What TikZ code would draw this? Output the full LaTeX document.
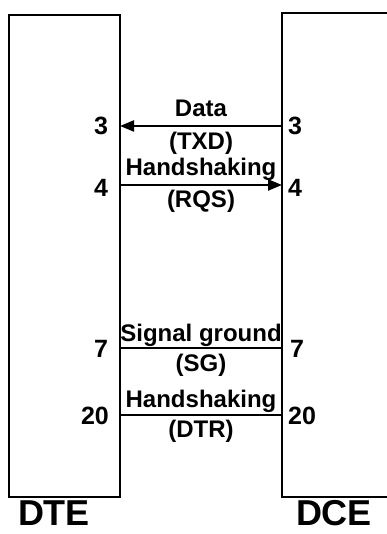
\documentclass[tikz,border=0pt]{standalone}
\usepackage{fontspec}
\setmainfont{Liberation Sans}
\usetikzlibrary{arrows.meta}
\tikzset{
  box/.style={line width=2.4pt},
  wire/.style={line width=2.2pt},
  lbl/.style={font=\bfseries\fontsize{24}{26}\selectfont, inner sep=0pt, anchor=base},
  pin/.style={font=\bfseries\fontsize{25}{27}\selectfont, inner sep=0pt},
  dev/.style={font=\bfseries\fontsize{36}{38}\selectfont, inner sep=0pt, anchor=base, text depth=0pt},
  tip/.style={-{Triangle[length=14pt,width=11pt]}}
}
\begin{document}
\begin{tikzpicture}[x=1pt,y=1pt]
\useasboundingbox (0,0) rectangle (387,534);
% DTE box
\draw[box] (9,519) rectangle (120,37);
% DCE box (open on the right, cut by the edge)
\draw[box] (390,521) -- (282,521) -- (282,37) -- (390,37);
% anchors for wires
\coordinate (L3) at (120,408); \coordinate (R3) at (282,408);
\coordinate (L4) at (120,349); \coordinate (R4) at (282,349);
\coordinate (L7) at (120,186); \coordinate (R7) at (282,186);
\coordinate (L20) at (120,119); \coordinate (R20) at (282,119);
\draw[wire,tip] (R3) -- (L3);
\draw[wire,tip] (L4) -- (R4);
\draw[wire] (L7) -- (R7);
\draw[wire] (L20) -- (R20);
% pin numbers
\node[pin] (p3l) at (101,408) {3};
\node[pin] (p3r) at (295,408) {3};
\node[pin] (p4l) at (101,346) {4};
\node[pin] (p4r) at (295,346) {4};
\node[pin] (p7l) at (101,185) {7};
\node[pin] (p7r) at (297,185) {7};
\node[pin] (p20l) at (95,118) {20};
\node[pin] (p20r) at (302,118) {20};
% signal labels
\node[lbl] (t1) at (201,417) {Data};
\node[lbl] (t2) at (201,384) {(TXD)};
\node[lbl] (t3) at (201,358) {Handshaking};
\node[lbl] (t4) at (201,326) {(RQS)};
\node[lbl] (t5) at (201,192) {Signal ground};
\node[lbl] (t6) at (201,162) {(SG)};
\node[lbl] (t7) at (201,126) {Handshaking};
\node[lbl] (t8) at (201,96) {(DTR)};
% device names
\node[dev] (dte) at (54,8.5) {DTE};
\node[dev] (dce) at (334,8.5) {DCE};
\end{tikzpicture}
\end{document}
